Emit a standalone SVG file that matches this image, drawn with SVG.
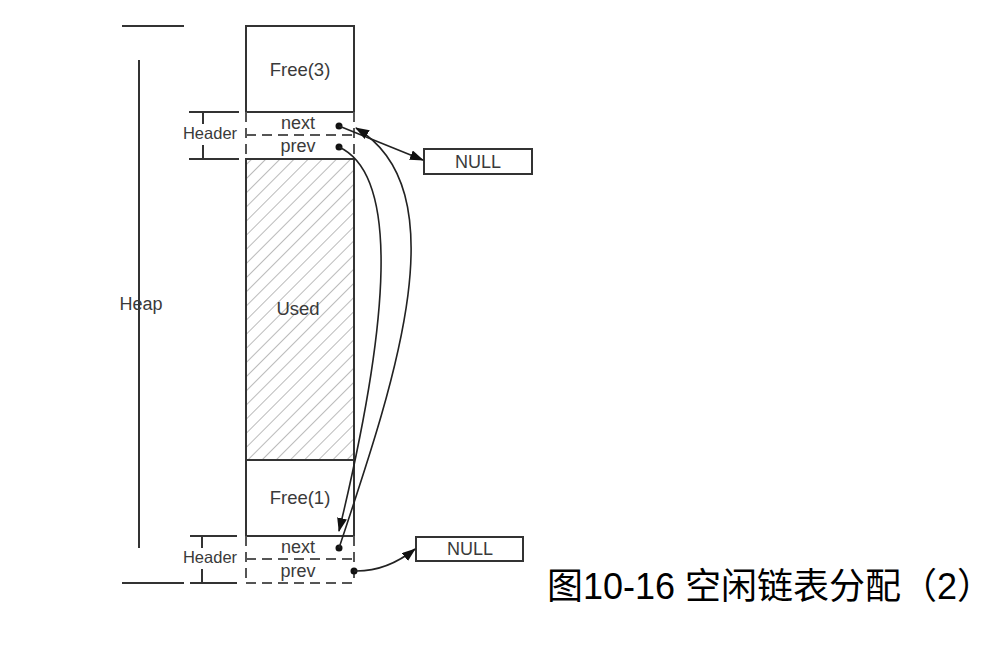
<svg xmlns="http://www.w3.org/2000/svg" width="998" height="646" viewBox="0 0 998 646">
<style>
.box{fill:none;stroke:#333;stroke-width:2}
.dash{fill:none;stroke:#555;stroke-width:2;stroke-dasharray:10 6}
.ln{fill:none;stroke:#333;stroke-width:2}
.con{fill:none;stroke:#222;stroke-width:1.6}
.t{font-family:"Liberation Sans",Arial,sans-serif;fill:#3a3a3a;text-anchor:middle}
.dot{fill:#111}
</style>
<defs>
<pattern id="hatch" patternUnits="userSpaceOnUse" width="10" height="10" patternTransform="rotate(45)">
<line x1="0" y1="0" x2="0" y2="10" stroke="#777" stroke-width="1"/>
</pattern>
<marker id="ah" markerWidth="14" markerHeight="10" refX="13" refY="5" orient="auto" markerUnits="userSpaceOnUse">
<path d="M0,0 L14,5 L0,10 Z" fill="#111"/>
</marker>
</defs>
<rect width="998" height="646" fill="#fff"/>

<g id="heap">
<line class="ln" x1="122" y1="26" x2="184" y2="26"/>
<line class="ln" x1="139" y1="60" x2="139" y2="548"/>
<line class="ln" x1="122" y1="583" x2="184" y2="583"/>
<text class="t" x="141" y="310" font-size="18">Heap</text>
</g>

<g id="free3">
<rect class="box" x="246" y="26" width="108" height="86"/>
<text class="t" x="300" y="76" font-size="18.5">Free(3)</text>
</g>

<g id="header-top">
<line class="ln" x1="189" y1="112" x2="239" y2="112"/>
<line class="ln" x1="189" y1="159" x2="239" y2="159"/>
<line class="ln" x1="203" y1="113" x2="203" y2="124"/>
<line class="ln" x1="203" y1="145" x2="203" y2="158"/>
<text class="t" x="210" y="139" font-size="16.5">Header</text>
<line class="dash" x1="246" y1="112" x2="246" y2="159"/>
<line class="dash" x1="354" y1="112" x2="354" y2="159"/>
<line class="dash" x1="246" y1="135" x2="354" y2="135"/>
<text class="t" x="298" y="129" font-size="18">next</text>
<text class="t" x="298" y="152" font-size="18">prev</text>
<circle class="dot" cx="339" cy="126" r="3.5"/>
<circle class="dot" cx="339" cy="147" r="3.5"/>
</g>

<g id="used">
<rect x="246" y="159" width="108" height="301" fill="url(#hatch)"/>
<rect class="box" x="246" y="159" width="108" height="301"/>
<text class="t" x="298" y="315" font-size="18.5">Used</text>
</g>

<g id="free1">
<rect class="box" x="246" y="460" width="108" height="76"/>
<text class="t" x="300" y="504" font-size="18.5">Free(1)</text>
</g>

<g id="header-bottom">
<line class="ln" x1="190" y1="536" x2="237" y2="536"/>
<line class="ln" x1="190" y1="583" x2="237" y2="583"/>
<line class="ln" x1="202" y1="537" x2="202" y2="548"/>
<line class="ln" x1="202" y1="569" x2="202" y2="582"/>
<text class="t" x="210" y="563" font-size="16.5">Header</text>
<line class="dash" x1="246" y1="536" x2="246" y2="583"/>
<line class="dash" x1="354" y1="536" x2="354" y2="583"/>
<line class="dash" x1="246" y1="559" x2="354" y2="559"/>
<line class="dash" x1="246" y1="583" x2="354" y2="583"/>
<text class="t" x="298" y="553" font-size="18">next</text>
<text class="t" x="298" y="577" font-size="18">prev</text>
<circle class="dot" cx="339" cy="548" r="3.5"/>
<circle class="dot" cx="354" cy="571" r="3.5"/>
</g>

<g id="null-top">
<rect class="box" x="424" y="149" width="108" height="25"/>
<text class="t" x="478" y="168" font-size="18">NULL</text>
</g>

<g id="null-bottom">
<rect class="box" x="416" y="537" width="107" height="24"/>
<text class="t" x="470" y="555" font-size="18">NULL</text>
</g>

<g id="connectors">
<path class="con" d="M339,126 L423,160" marker-end="url(#ah)"/>
<path class="con" d="M339,147 C400,175 390,320 339,531" marker-end="url(#ah)"/>
<path class="con" d="M339,548 C395,380 460,190 356,128" marker-end="url(#ah)"/>
<path class="con" d="M354,571 Q386,572 415,549" marker-end="url(#ah)"/>
</g>

<g id="caption">
<text x="547" y="599" font-size="36" font-family="'Liberation Sans','Noto Sans CJK SC',sans-serif" fill="#000">图10-16 空闲链表分配（2）</text>
</g>
</svg>
